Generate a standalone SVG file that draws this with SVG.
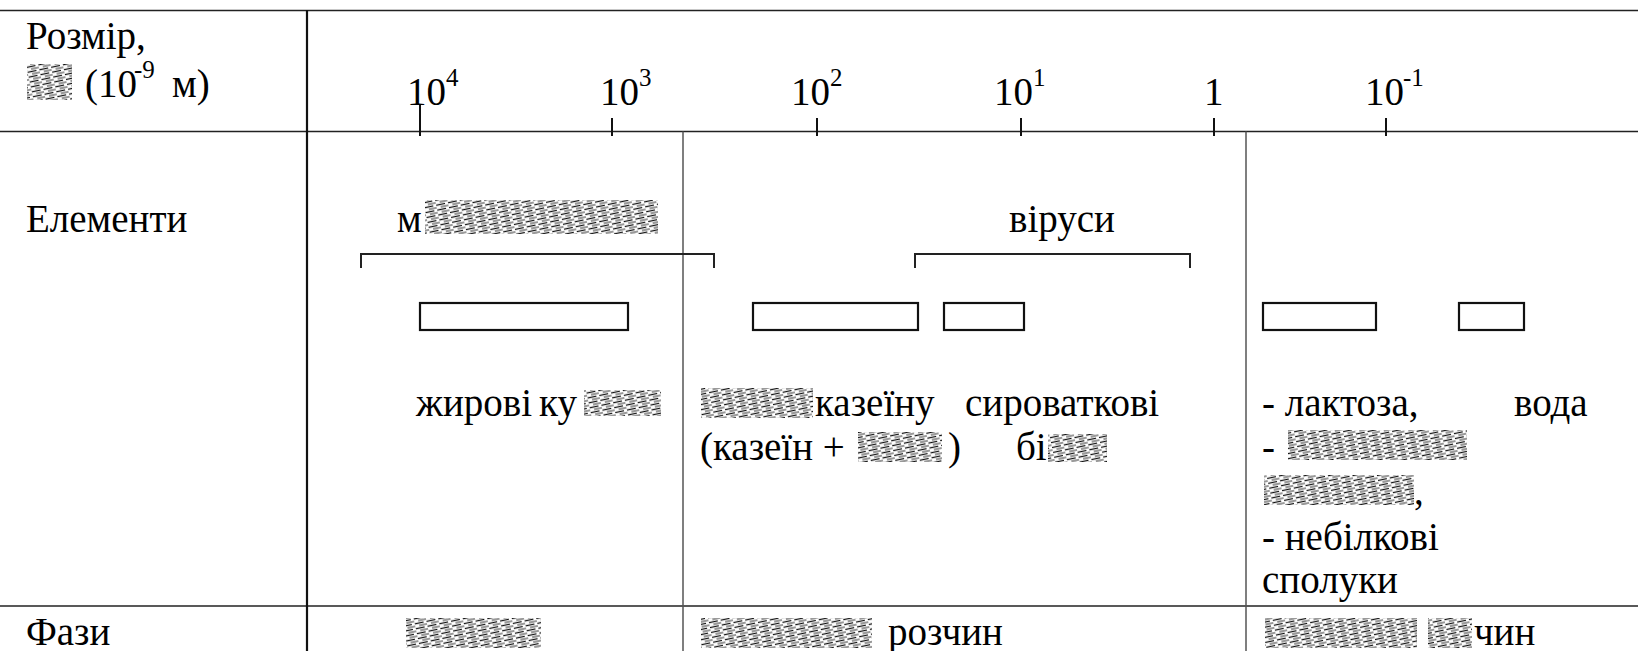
<svg xmlns="http://www.w3.org/2000/svg" width="1638" height="651" viewBox="0 0 1638 651">
<defs>
<pattern id="hatch" patternUnits="userSpaceOnUse" width="12" height="5" patternTransform="rotate(-12)">
<rect width="12" height="5" fill="#fff"/>
<line x1="0" y1="1.5" x2="9" y2="1.5" stroke="#111" stroke-width="1.3"/>
<line x1="4" y1="4" x2="12" y2="4" stroke="#333" stroke-width="1"/>
</pattern>
<style>
.t{font-family:'Liberation Serif','Times New Roman','DejaVu Serif',serif;font-size:39px;fill:#000}
.sup{font-size:25px}
.grid{stroke:#222;stroke-width:1.5;fill:none}
.thick{stroke:#111;stroke-width:2.2;fill:none}
.inner{stroke:#555;stroke-width:1.5;fill:none}
.tick{stroke:#111;stroke-width:2}
.bar{fill:#fff;stroke:#111;stroke-width:2.2}
.brk{stroke:#222;stroke-width:2;fill:none}
.hatch{fill:url(#hatch)}
</style>
</defs>
<g id="connectors">
<line class="grid" x1="0" y1="10.5" x2="1638" y2="10.5"/>
<line class="grid" x1="0" y1="131.5" x2="1638" y2="131.5"/>
<line class="grid" x1="0" y1="606" x2="1638" y2="606"/>
<line class="thick" x1="307" y1="10" x2="307" y2="651"/>
<line class="inner" x1="683" y1="131.5" x2="683" y2="651"/>
<line class="inner" x1="1246" y1="131.5" x2="1246" y2="651"/>
<line class="tick" x1="420" y1="105" x2="420" y2="136"/>
<line class="tick" x1="612" y1="118" x2="612" y2="136"/>
<line class="tick" x1="817" y1="118" x2="817" y2="136"/>
<line class="tick" x1="1021" y1="118" x2="1021" y2="136"/>
<line class="tick" x1="1214" y1="118" x2="1214" y2="136"/>
<line class="tick" x1="1386" y1="118" x2="1386" y2="136"/>
<polyline class="brk" points="361,268 361,254 714,254 714,268"/>
<polyline class="brk" points="915,268 915,254 1190,254 1190,268"/>
</g>
<g class="t" font-family="Liberation Serif, Times New Roman, DejaVu Serif, serif">
<g id="header">
<text x="26" y="49">Розмір,</text>
<rect class="hatch" x="27" y="64" width="45" height="36"/>
<text x="85" y="97">(10</text>
<text class="sup" x="134" y="78">-9</text>
<text x="172" y="97">м)</text>
</g>
<g id="axis-labels">
<text x="407" y="105">10</text><text class="sup" x="446" y="86">4</text>
<text x="600" y="105">10</text><text class="sup" x="639" y="86">3</text>
<text x="791" y="105">10</text><text class="sup" x="830" y="86">2</text>
<text x="994" y="105">10</text><text class="sup" x="1033" y="86">1</text>
<text x="1204" y="105">1</text>
<text x="1365" y="105">10</text><text class="sup" x="1403" y="86">-1</text>
</g>
<g id="row-elements">
<text x="26" y="232">Елементи</text>
<text x="397" y="232">м</text>
<rect class="hatch" x="425" y="200" width="233" height="34"/>
<text x="1009" y="232">віруси</text>
</g>
<g id="bars">
<rect class="bar" x="420" y="303" width="208" height="27"/>
<rect class="bar" x="753" y="303" width="165" height="27"/>
<rect class="bar" x="944" y="303" width="80" height="27"/>
<rect class="bar" x="1263" y="303" width="113" height="27"/>
<rect class="bar" x="1459" y="303" width="65" height="27"/>
</g>
<g id="node-fat">
<text x="416" y="416">жирові</text>
<text x="539" y="416">ку</text>
<rect class="hatch" x="584" y="390" width="77" height="26"/>
</g>
<g id="node-casein">
<rect class="hatch" x="701" y="388" width="112" height="30"/>
<text x="815" y="416">казеїну</text>
<text x="700" y="460">(казеїн +</text>
<rect class="hatch" x="858" y="432" width="84" height="30"/>
<text x="948" y="460">)</text>
</g>
<g id="node-whey">
<text x="965" y="416">сироваткові</text>
<text x="1016" y="460">бі</text>
<rect class="hatch" x="1048" y="434" width="59" height="28"/>
</g>
<g id="node-solutes">
<text x="1262" y="416">- лактоза,</text>
<text x="1262" y="460">-</text>
<rect class="hatch" x="1288" y="430" width="179" height="30"/>
<rect class="hatch" x="1264" y="475" width="150" height="30"/>
<text x="1414" y="504">,</text>
<text x="1262" y="550">- небілкові</text>
<text x="1262" y="593">сполуки</text>
</g>
<g id="node-water">
<text x="1514" y="416">вода</text>
</g>
<g id="row-phases">
<text x="26" y="645">Фази</text>
<rect class="hatch" x="406" y="618" width="135" height="30"/>
<rect class="hatch" x="701" y="618" width="171" height="30"/>
<text x="888" y="645">розчин</text>
<rect class="hatch" x="1265" y="618" width="152" height="30"/>
<rect class="hatch" x="1428" y="618" width="44" height="30"/>
<text x="1474" y="645">чин</text>
</g>
</g>
</svg>
